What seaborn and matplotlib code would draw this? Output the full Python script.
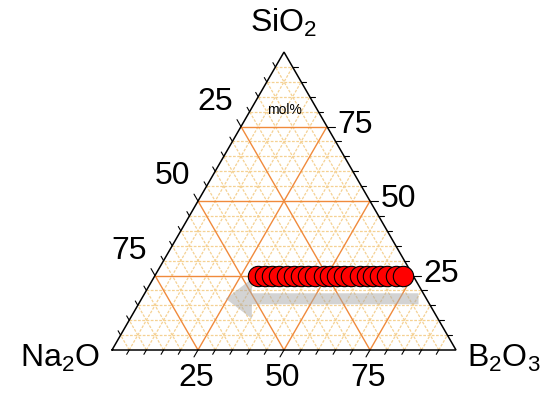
import numpy as np
import pandas as pd
import seaborn as sns
import matplotlib.pyplot as plt
from matplotlib.patches import FancyArrow

# compositions (mol%) of the glass series: SiO2 fixed at 25
b2o3 = [30, 32, 34, 36, 38.5, 40.5, 42.5, 44.5, 46.5, 49, 51,
        53, 55, 57, 59.5, 61.5, 63.5, 65.5, 67.5, 70, 72]
sio2 = [25] * len(b2o3)
na2o = [100 - b - s for b, s in zip(b2o3, sio2)]

tick_vals = [25, 50, 75]
corner_names = ["Na$_2$O", "B$_2$O$_3$", "SiO$_2$"]

# arrow (tail / tip compositions in B2O3, at constant SiO2)
arrow_sio2 = 17.2
arrow_b2o3 = [80.5, 24.5]

sns.set_style("white")
plt.rcParams['font.family'] = ['Liberation Sans', 'DejaVu Sans']
plt.rcParams['mathtext.default'] = 'regular'
plt.rcParams['text.color'] = 'black'

H = np.sqrt(3) / 2


def tern(b, s):
    # B2O3 and SiO2 in percent -> cartesian
    b = np.asarray(b) / 100.0
    s = np.asarray(s) / 100.0
    return b + s / 2, s * H


W, Hh = 544, 393
fig = plt.figure(figsize=(W / 100, Hh / 100), dpi=100)
ax = fig.add_axes([0, 0, 1, 1])
scale = 344.0  # px per unit side
x0, y0 = 112.0, 43.0
ax.set_xlim(-x0 / scale, (W - x0) / scale)
ax.set_ylim(-y0 / scale, (Hh - y0) / scale)
ax.axis('off')

major_c = '#f08a3c'
minor_c = '#f5d193'

# grid lines
for v in range(5, 100, 5):
    major = v % 25 == 0
    kw = dict(color=major_c, lw=1.0, zorder=2) if major else \
        dict(color=minor_c, lw=0.9, ls=(0, (2.2, 1.2)), zorder=1)
    # SiO2 constant (horizontal)
    xa, ya = tern([0, 100 - v], [v, v])
    ax.plot(xa, ya, **kw)
    # B2O3 constant
    xa, ya = tern([v, v], [0, 100 - v])
    ax.plot(xa, ya, **kw)
    # Na2O constant
    xa, ya = tern([100 - v, 0], [0, 100 - v])
    ax.plot(xa, ya, **kw)

# triangle outline
xa, ya = tern([0, 100, 0, 0], [0, 0, 100, 0])
ax.plot(xa, ya, color='black', lw=1.1, zorder=4, solid_joinstyle='miter')

# ticks
px = 1 / scale
for v in range(5, 100, 5):
    L = (8 if v % 25 == 0 else 5) * px
    # bottom (B2O3): direction down-left
    xb, yb = tern(v, 0)
    ax.plot([xb, xb - 0.5 * L], [yb, yb - H * L], color='black', lw=0.8, zorder=4)
    # left (Na2O): up-left
    xl, yl = tern(0, 100 - v)
    ax.plot([xl, xl - 0.5 * L], [yl, yl + H * L], color='black', lw=0.8, zorder=4)
    # right (SiO2): right
    xr, yr = tern(100 - v, v)
    ax.plot([xr, xr + L], [yr, yr], color='black', lw=0.8, zorder=4)

fs = 23
for v in tick_vals:
    xb, yb = tern(v, 0)
    ax.text(xb - 2 * px, yb - 28 * px, str(v), ha='center', va='center', fontsize=fs)
    xl, yl = tern(0, 100 - v)
    ax.text(xl - 26 * px, yl + 25 * px, str(v), ha='center', va='center', fontsize=fs)
    xr, yr = tern(100 - v, v)
    ax.text(xr + 28 * px, yr + 2 * px, str(v), ha='center', va='center', fontsize=fs)

ax.text(-52 * px, -8 * px, corner_names[0], ha='center', va='center', fontsize=fs)
ax.text(1 + 48 * px, -8 * px, corner_names[1], ha='center', va='center', fontsize=fs)
ax.text(0.5, H + 29 * px, corner_names[2], ha='center', va='center', fontsize=fs)
ax.text(0.5, H - 58 * px, "mol%", ha='center', va='center', fontsize=10)

# arrow
ax_t, ay_t = tern(arrow_b2o3[0], arrow_sio2)
ax_h, ay_h = tern(arrow_b2o3[1], arrow_sio2)
arr = FancyArrow(ax_t, ay_t, ax_h - ax_t, ay_h - ay_t, width=11 * px,
                 head_width=40 * px, head_length=26 * px, length_includes_head=True,
                 color='#a8a8a8', alpha=0.5, lw=0, zorder=3)
ax.add_patch(arr)

# data points
xs, ys = tern(b2o3, sio2)
df = pd.DataFrame({'x': xs, 'y': ys, 'Na2O': na2o})
sns.scatterplot(data=df, x='x', y='y', ax=ax, s=215, color='#ff0000',
                edgecolor='black', linewidth=0.8, zorder=5, legend=False)
ax.set_xlabel('')
ax.set_ylabel('')
ax.axis('off')

fig.savefig('out.png', dpi=100)
